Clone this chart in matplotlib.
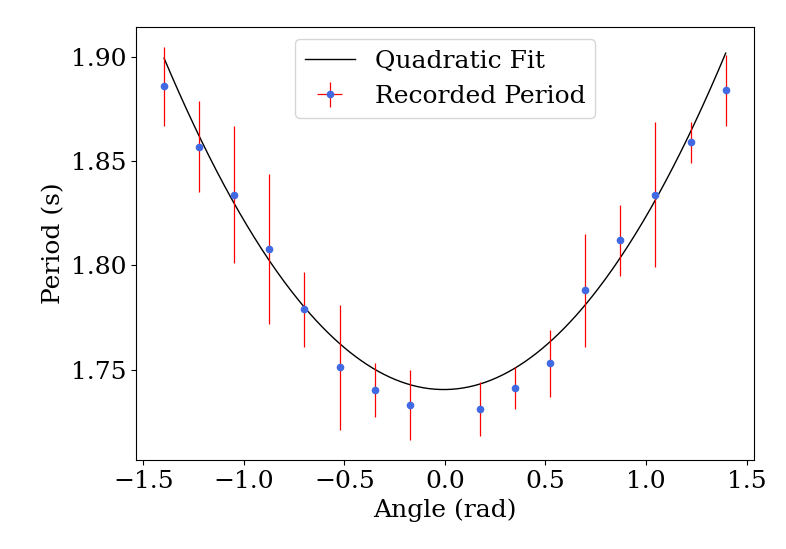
import numpy as np
import matplotlib
matplotlib.use("Agg")
import matplotlib.pyplot as plt

plt.rcParams["font.family"] = "DejaVu Serif"
plt.rcParams["font.size"] = 18

# angles in degrees -> radians (0 was not measured)
angles_deg = [-80, -70, -60, -50, -40, -30, -20, -10, 10, 20, 30, 40, 50, 60, 70, 80]
period = [1.886, 1.857, 1.834, 1.808, 1.779, 1.751, 1.740, 1.733,
          1.731, 1.741, 1.753, 1.788, 1.812, 1.834, 1.859, 1.884]
period_err = [0.019, 0.022, 0.033, 0.036, 0.018, 0.030, 0.013, 0.017,
              0.013, 0.010, 0.016, 0.027, 0.017, 0.035, 0.010, 0.017]

# quadratic fit coefficients a*x^2 + b*x + c
fit_a = 0.0822
fit_b = 0.00086
fit_c = 1.7404

angle = np.radians(angles_deg)
x_fit = np.linspace(angle.min(), angle.max(), 300)
y_fit = fit_a * x_fit**2 + fit_b * x_fit + fit_c

fig, ax = plt.subplots(figsize=(7.86, 5.49), dpi=100)
fig.subplots_adjust(left=0.173, right=0.959, top=0.951, bottom=0.162)

ax.plot(x_fit, y_fit, color="black", lw=1, label="Quadratic Fit")
ax.errorbar(angle, period, yerr=period_err, xerr=np.zeros(len(angle)),
            fmt="o", color="royalblue", ms=4.5, ecolor="red", elinewidth=0.9,
            label="Recorded Period")

ax.set_xlabel("Angle (rad)")
ax.set_ylabel("Period (s)")
ax.legend(loc="upper center")

plt.savefig("out.png")
